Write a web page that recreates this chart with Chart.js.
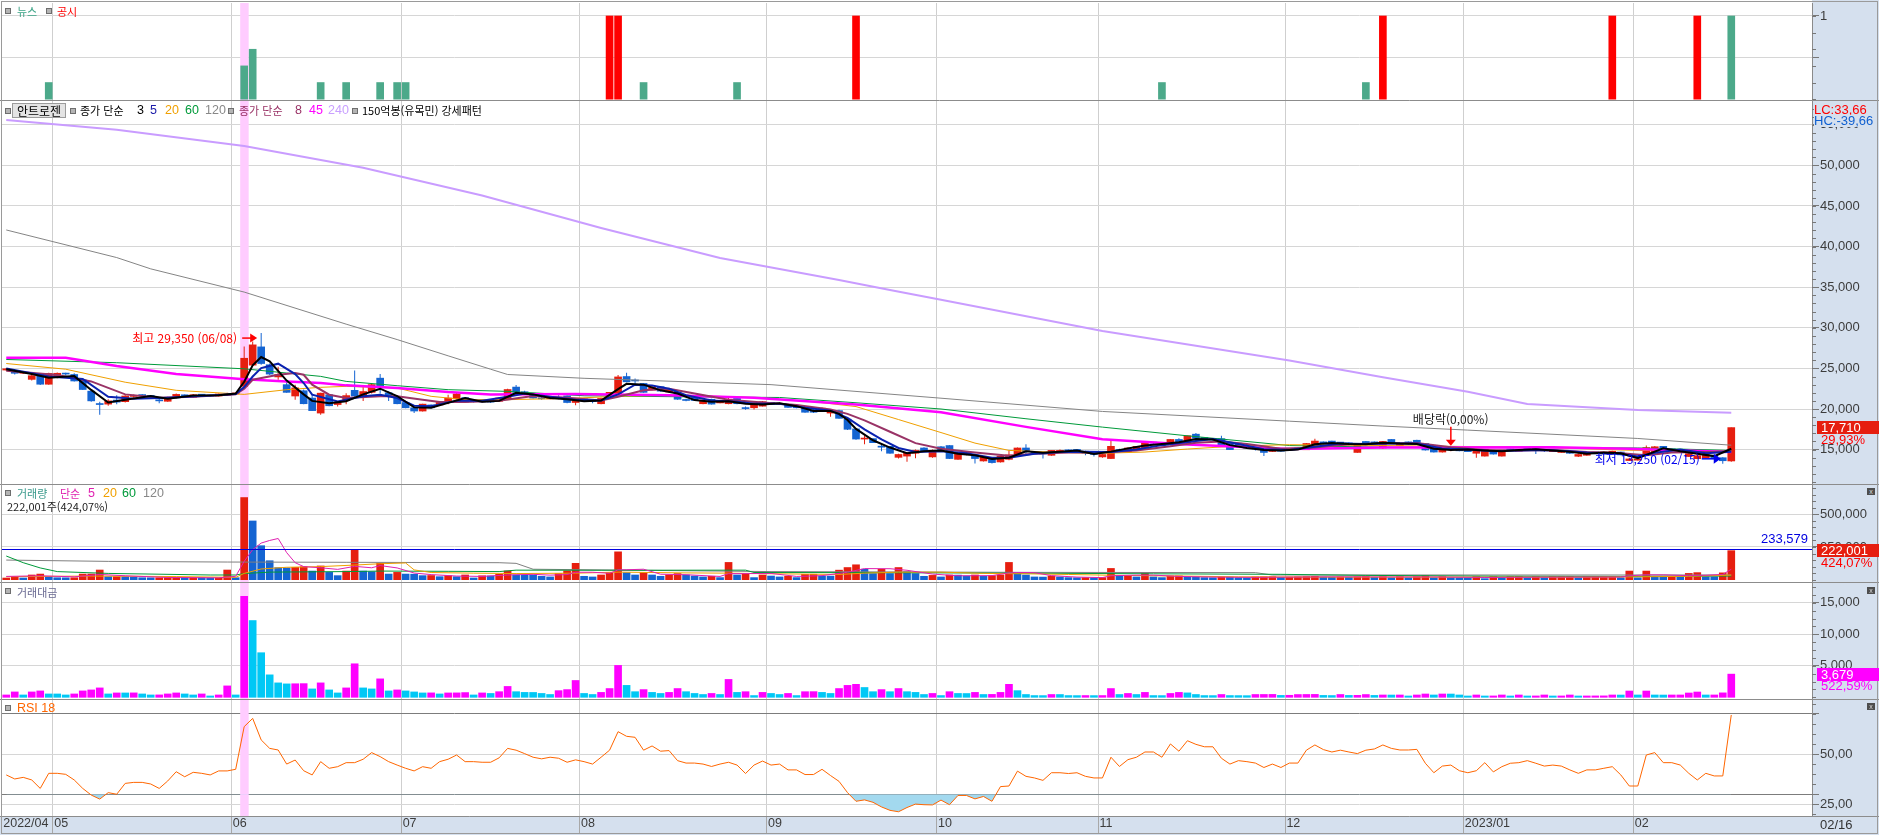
<!DOCTYPE html>
<html lang="ko">
<head>
<meta charset="utf-8">
<title>안트로젠 일봉 차트</title>
<script src="https://cdn.jsdelivr.net/npm/chart.js@4.4.1/dist/chart.umd.min.js"></script>
<style>
html, body { margin: 0; padding: 0; background: #fff; }
#wrap { position: relative; width: 1879px; height: 835px; overflow: hidden; }
#wrap canvas, #wrap svg { position: absolute; left: 0; top: 0; }
.t { position: absolute; white-space: nowrap; font: 11px/14px 'Noto Sans CJK KR', 'Noto Sans', sans-serif; color: #000; }
.n { font-family: 'Liberation Sans Narrow', 'Liberation Sans', Arial, sans-serif; font-size: 12.5px; }
.sq { position: absolute; width: 4px; height: 4px; border: 1px solid #6e6e6e; background: #b4b4b4; }
.tag { position: absolute; left: 1817px; width: 62px; height: 13px; font: 13px/13px 'Liberation Sans Narrow', 'Liberation Sans', Arial, sans-serif; color: #fff; padding-left: 4px; box-sizing: border-box; }
.ax { position: absolute; white-space: nowrap; font: 13px/14px 'Liberation Sans Narrow', 'Liberation Sans', Arial, sans-serif; }
.btn { position: absolute; left: 1867px; width: 8px; height: 7px; background: #4e4e4e; color: #ddd; font: 7px/7px Arial, sans-serif; text-align: center; }
</style>
</head>
<body>
<div id="wrap">
  <canvas id="c" width="1879" height="835"></canvas>
  <svg id="ov" width="1879" height="835"></svg>

  <!-- 뉴스 / 공시 -->
  <div class="sq" style="left:5px;top:8px"></div>
  <div class="t" style="left:17px;top:4px;color:#3ba386">뉴스</div>
  <div class="sq" style="left:46px;top:8px"></div>
  <div class="t" style="left:57px;top:4px;color:#f00">공시</div>

  <!-- 가격 -->
  <div class="sq" style="left:5px;top:108px"></div>
  <div class="t" style="left:12px;top:103px;width:54px;height:15px;box-sizing:border-box;border:1px solid #9c9c9c;background:#e4e4e4;padding-left:4px;line-height:13px;font-size:12px">안트로젠</div>
  <div class="sq" style="left:70px;top:108px"></div>
  <div class="t" style="left:80px;top:103px">종가 단순</div>
  <div class="t n" style="left:137px;top:103px">3</div>
  <div class="t n" style="left:150px;top:103px;color:#1a1aa8">5</div>
  <div class="t n" style="left:165px;top:103px;color:#f0a000">20</div>
  <div class="t n" style="left:185px;top:103px;color:#009a3a">60</div>
  <div class="t n" style="left:205px;top:103px;color:#888">120</div>
  <div class="sq" style="left:228px;top:108px"></div>
  <div class="t" style="left:239px;top:103px;color:#993366">종가 단순</div>
  <div class="t n" style="left:295px;top:103px;color:#993366">8</div>
  <div class="t n" style="left:309px;top:103px;color:#ff00ff">45</div>
  <div class="t n" style="left:328px;top:103px;color:#c9a0ff">240</div>
  <div class="sq" style="left:352px;top:108px"></div>
  <div class="t" style="left:362px;top:103px">150억봉(유목민) 강세패턴</div>

  <!-- 거래량 -->
  <div class="sq" style="left:5px;top:490px"></div>
  <div class="t" style="left:17px;top:486px;color:#3a9a8c">거래량</div>
  <div class="t" style="left:60px;top:486px;color:#e020b0">단순</div>
  <div class="t n" style="left:88px;top:486px;color:#e020b0">5</div>
  <div class="t n" style="left:103px;top:486px;color:#f0a000">20</div>
  <div class="t n" style="left:122px;top:486px;color:#009a3a">60</div>
  <div class="t n" style="left:143px;top:486px;color:#888">120</div>
  <div class="t" id="volHead" style="left:7px;top:499px;color:#222"></div>

  <!-- 거래대금 -->
  <div class="sq" style="left:5px;top:588px"></div>
  <div class="t" style="left:17px;top:585px;color:#6a6a92">거래대금</div>

  <!-- RSI -->
  <div class="sq" style="left:5px;top:705px"></div>
  <div class="t n" style="left:17px;top:701px;color:#ff6600">RSI 18</div>

  <div class="btn" style="top:488px">x</div>
  <div class="btn" style="top:587px">x</div>
  <div class="btn" style="top:703px">x</div>

  <div class="ax" style="left:1814px;top:103px;color:#f00;background:#d5e0ee">LC:33,66</div>
  <div class="ax" style="left:1814px;top:115px;width:62px;height:12px;line-height:12px;overflow:hidden;color:#1060d0;background:#d5e0ee">HC:-39,66</div>
  <div class="ax" style="left:1820px;top:818px;color:#333">02/16</div>
</div>

<script>
// 슬롯 수 (거래일 204 + 오른쪽 여백 9)
const SLOTS = 213;
const monthStarts = [0, 6, 27, 47, 68, 90, 110, 129, 151, 172, 192];
const monthNames = ['2022/04', '05', '06', '07', '08', '09', '10', '11', '12', '2023/01', '02'];

// 일봉 시가/고가/저가/종가
const opens = [
  24800,24450,24400,23650,24300,23050,23900,24400,24250,23600,
  22200,20600,20600,21100,20900,21550,21750,21600,21050,20950,
  21400,21750,21450,21800,21700,21600,21700,21850,22800,25400,
  27650,25450,23950,23000,21600,22250,21350,19500,21750,20550,
  21050,22300,21450,22050,23800,22000,21550,20800,20150,19750,
  20500,20500,20950,21250,21400,20950,21150,21100,20950,21150,
  22700,22050,21850,21350,21250,21450,21600,20800,21250,21000,
  20650,21650,21850,24000,23500,23150,22350,22750,22100,22050,
  21100,21450,20650,21200,20750,20650,21300,20100,20150,20350,
  20800,20550,20550,20350,20150,19900,19800,19500,19800,18750,
  17550,16300,16350,15400,15400,14050,14200,14550,15200,14100,
  15350,15500,13800,14500,14350,13600,14000,13480,13800,14200,
  15200,14750,14500,14300,14700,14950,14950,14800,14600,14100,
  13900,15000,14750,14980,15200,15850,15800,15600,16250,15850,
  16900,16500,16300,16350,15800,15800,15350,15150,15100,14770,
  15000,15100,15200,14980,15400,15950,16050,15900,15820,14650,
  16000,15950,15200,16250,15500,15950,16150,15750,15300,14700,
  15100,15350,14950,14550,14200,14900,14200,15050,14800,15150,
  15200,14950,14750,14650,14800,14180,14300,14650,14550,14600,
  14700,13650,13700,14400,14750,15400,15100,15000,14150,13880,
  14000,14300,14000,13600
];
const highs = [
  25050,24600,24600,24200,24400,24450,24500,24450,24400,23700,
  22300,20900,21200,21700,21700,21800,21850,21700,21300,21500,
  21900,21800,21850,21850,21750,21900,22000,22000,27700,28300,
  29350,25600,25200,23500,23000,22400,21750,22000,21800,21000,
  21950,24750,22800,23100,24300,22200,21600,20900,20200,20650,
  20550,20900,21750,22100,21450,21050,21200,21200,21450,22500,
  22950,22250,21950,21500,21500,21700,21650,21100,21300,21100,
  21400,22100,24200,24450,23750,23200,22800,22800,22400,22150,
  21250,21500,21150,21250,21100,21350,21400,20300,20800,21000,
  20850,20800,20600,20400,20200,20000,20200,19900,19900,18800,
  17600,16750,16400,15650,15450,14500,14700,15000,15300,15000,
  15450,15550,14600,14700,14400,14200,14050,14250,14900,15250,
  15650,14800,14600,14900,15000,15000,15050,14850,14650,14450,
  16250,15100,15250,15450,16000,15950,15850,16300,16400,16750,
  17050,16550,16350,16700,15850,15850,15400,15200,15150,15300,
  15050,15150,15250,15800,16350,16000,16100,15950,15900,15600,
  16050,16000,16050,16300,15850,16000,16200,15800,15350,15050,
  15350,15400,15100,15150,15100,14950,14950,15100,15050,15200,
  15250,15000,14950,14900,14850,14550,14650,14700,14750,14850,
  14750,14000,14100,15500,15450,15450,15150,15050,14600,14550,
  14550,14350,14050,17710
];
const lows = [
  24700,24250,24300,23500,22950,23000,23800,24150,23400,22350,
  20900,19300,20400,20600,20800,21400,21500,21450,20700,20900,
  21300,21400,21400,21600,21500,21550,21600,21800,22700,25300,
  25450,24200,23600,22000,21150,20600,19750,19300,20350,20300,
  20600,21300,21000,21900,21900,21000,20600,20100,19500,19700,
  20100,20400,20600,21200,20750,20800,20800,20750,20900,21100,
  22000,21850,21300,21150,21200,21200,20700,20450,20900,20700,
  20600,21600,21800,23300,23100,22000,22300,22150,22000,21150,
  20950,21000,20600,20550,20700,20600,20600,19900,19950,20300,
  20500,20500,20150,20100,19550,19500,19750,19050,18800,17400,
  16200,15650,15800,14800,14500,13900,13500,13950,14800,14000,
  14900,13850,13750,14300,13300,13550,13300,13400,13700,14150,
  14450,14450,13900,14250,14650,14700,14750,14300,14150,14000,
  13850,14750,14700,14950,15150,15600,15450,15550,15800,15800,
  16300,16150,16100,15350,14950,15200,15150,14900,14200,14700,
  14750,14850,14950,14950,15350,15650,15450,15600,15500,14600,
  15650,15700,15100,15700,15450,15600,15700,14900,14650,14650,
  14800,14800,14700,14000,14150,14400,14150,14850,14750,14950,
  14450,14700,14700,14600,14450,14100,14250,14500,14500,14550,
  14300,13600,13650,14350,14700,14800,14800,14700,14100,13800,
  13950,13850,13250,13500
];
const closes = [
  24950,24400,24500,24100,23050,24380,24400,24300,23450,22400,
  21000,20550,21000,20850,21600,21650,21650,21550,21000,21350,
  21800,21450,21750,21700,21600,21850,21850,21950,26250,27900,
  25600,24300,24250,22050,22600,20650,19800,21950,20400,20800,
  21650,21600,22150,23000,22600,21600,20650,20150,19750,20600,
  20150,20800,21350,21850,20850,20900,20870,20850,21350,22400,
  22050,22000,21350,21250,21400,21350,20800,21050,21000,20900,
  21300,22050,23950,23350,23450,22050,22700,22200,22300,21200,
  21050,21050,21000,20600,21050,21200,20650,20050,20750,20900,
  20550,20650,20200,20150,19600,19600,20100,19550,18850,17500,
  16300,16350,15850,15300,14550,14400,14650,14900,14850,14900,
  15000,13900,14550,14550,13900,14150,13400,14200,14350,15200,
  14800,14500,14450,14900,14900,14850,14900,14550,14400,14400,
  15400,14800,15200,15400,15850,15800,15500,16250,15850,16700,
  16400,16200,16200,15450,15000,15250,15200,15100,14650,15200,
  14800,15050,15050,15750,16050,15800,15650,15800,15700,15550,
  15700,15750,16000,15750,15700,15700,15750,14950,14700,15000,
  15150,14850,14750,14900,15050,14450,14900,14950,15000,15050,
  15000,14850,14900,14850,14550,14400,14600,14600,14700,14800,
  14350,13850,13850,15250,15350,14850,14850,14750,14500,14250,
  14450,13900,13630,17710
];

// 거래량 (주)
const volume = [
  12800,23000,13000,36000,43000,23000,15000,14500,15000,43000,
  43500,74000,23000,23500,23000,20000,15000,14500,15000,15500,
  16000,15500,16000,15500,13000,13500,74000,15000,628000,449000,
  260000,145000,92000,90000,94000,99000,66000,105000,56000,31000,
  66000,232000,66000,61000,125000,43000,56000,43000,42000,31000,
  32000,23000,31000,23000,36000,13000,30000,28500,41500,67000,
  36000,35500,35000,26000,21000,47000,67000,125000,26000,21000,
  36000,54000,213000,54000,36000,54000,36000,26000,36000,47000,
  36000,28000,21000,26000,16000,132000,36000,47000,16000,36000,
  28000,21000,26000,16000,41000,41500,28000,27500,73000,93000,
  114000,80000,47000,80000,47000,93000,62000,47000,26000,33000,
  21000,36000,35000,28000,36000,26000,31000,36000,132000,47000,
  36000,21000,20000,28000,21000,16000,15000,16000,15000,16000,
  86000,28000,29000,21000,47000,21000,16000,28000,29000,21000,
  20000,16000,15000,21000,20000,16000,15000,21000,22000,23000,
  18000,20000,22000,24000,26000,20000,18000,21000,19000,22000,
  24000,18000,23000,15000,23000,15000,23000,31000,15000,23000,
  15500,14000,13000,23000,8000,23000,15000,23000,24000,15000,
  23000,15000,23000,23500,24000,15000,23000,23500,24000,24500,
  15000,66000,15000,66000,23000,22000,23000,22500,48000,54000,
  23000,22000,52350,222001
];

// 거래대금 (백만원)
const tradeValue = [
  372,851,372,851,1011,532,530,372,532,1011,
  1170,1490,532,692,690,700,532,372,380,532,
  692,532,372,532,213,372,1809,372,16013,12183,
  7076,3564,2288,2128,2150,2170,1330,2288,1170,692,
  1490,5320,1490,1330,2926,1011,1170,1011,851,692,
  700,532,692,700,750,372,692,611,890,1724,
  890,778,770,611,445,1056,1223,2669,611,445,
  778,1390,5060,1890,890,1223,778,611,778,1390,
  890,611,445,611,445,2836,778,890,278,778,
  611,445,611,278,890,900,778,611,1390,1890,
  2057,1557,890,1223,890,1390,890,778,445,611,
  278,890,611,600,778,445,460,778,2057,1056,
  445,278,270,445,440,278,270,280,270,280,
  1390,445,611,445,778,278,270,611,778,700,
  445,278,270,445,278,270,260,445,450,460,
  300,320,440,450,460,300,280,445,300,310,
  440,300,368,360,368,210,368,525,368,525,
  520,368,210,368,210,215,368,210,368,210,
  215,368,210,215,368,210,215,220,225,368,
  360,998,368,998,368,360,368,370,683,840,
  368,370,704,3679
];

// RSI 18
const rsi = [
  39.6,37.6,38.4,37.1,32.9,40.4,40.4,39.9,37.1,32.9,
  29.6,27.6,30.8,30.0,35.4,35.9,35.9,35.1,32.9,36.6,
  41.2,38.7,40.9,40.4,39.6,41.6,41.6,42.4,63.6,67.7,
  57.0,52.8,52.0,45.0,47.0,41.7,39.6,46.2,42.9,43.7,
  45.7,45.7,47.4,50.7,48.7,46.2,44.5,42.9,41.6,43.7,
  42.9,46.2,47.4,49.5,46.2,46.2,45.9,45.9,48.1,52.8,
  51.9,50.2,48.4,47.6,48.4,47.9,45.9,47.1,46.2,45.0,
  48.4,51.9,61.1,58.8,58.3,51.9,54.0,51.4,51.7,46.7,
  45.5,45.5,45.0,43.8,45.0,45.9,44.5,40.3,44.5,46.5,
  44.5,45.0,42.1,42.1,39.8,39.8,42.4,39.3,36.4,30.8,
  26.5,27.2,26.0,23.7,22.0,21.3,23.4,25.1,24.8,24.7,
  27.1,24.8,29.4,29.4,27.7,28.9,26.5,33.8,34.1,41.5,
  38.9,38.1,36.9,40.7,40.7,40.3,40.7,38.9,38.1,38.1,
  48.4,43.8,47.2,48.4,51.0,51.0,48.4,55.0,51.4,56.6,
  54.8,53.6,53.6,47.9,45.0,46.7,46.2,45.5,43.3,45.0,
  43.3,45.5,45.5,51.9,54.5,52.2,51.0,51.9,51.0,50.2,
  51.9,52.5,54.5,52.8,52.0,52.0,52.3,45.4,40.7,44.0,
  44.5,41.7,40.7,41.7,45.7,41.1,43.7,45.4,45.7,46.7,
  45.4,44.0,44.5,44.0,42.1,40.4,42.1,42.1,42.9,43.7,
  39.6,34.1,34.1,49.5,50.7,45.7,45.7,44.5,40.4,37.1,
  40.4,39.1,39.1,69.4
];

// 뉴스 / 공시 건수 [일자, 값]
const newsPts = [[5,0.2],[28,0.4],[29,0.6],[37,0.2],[40,0.2],[44,0.2],[46,0.2],[47,0.2],[75,0.2],[86,0.2],[136,0.2],[160,0.2],[203,1]];
const disclosurePts = [[71,1],[72,1],[100,1],[162,1],[189,1],[199,1]];

// 이동평균 [일자, 값]
const ma3Pts = [[0,24900],[3,24300],[5,23850],[8,24050],[10,22350],[12,20800],[14,21150],[17,21600],[19,21250],[22,21650],[25,21700],[27,21900],[28,23350],[29,25370],[30,26400],[31,25860],[33,23500],[35,21800],[36,21000],[38,20700],[40,20950],[42,21800],[44,22500],[46,21600],[48,20200],[50,20150],[52,20750],[54,21350],[56,20900],[58,21000],[60,22000],[62,21800],[64,21350],[66,21200],[68,20950],[70,21050],[72,22450],[73,23100],[75,23000],[77,22300],[79,21900],[81,21100],[83,20900],[85,20950],[87,20650],[89,20550],[91,20700],[93,20350],[95,19750],[97,19750],[98,19400],[99,18650],[100,17550],[102,16150],[104,15250],[106,14550],[108,14800],[110,14900],[112,14500],[114,14300],[116,13850],[118,14000],[120,14800],[122,14600],[124,14750],[126,14900],[128,14450],[130,14750],[132,15150],[134,15500],[136,15700],[138,15900],[140,16300],[142,16250],[144,15550],[146,15200],[148,14950],[150,14900],[152,15000],[154,15650],[156,15800],[158,15700],[160,15650],[162,15850],[164,15750],[166,15700],[168,15100],[170,14950],[172,15000],[174,14900],[176,14800],[178,14950],[180,15050],[182,14900],[184,14750],[186,14500],[188,14650],[190,14550],[192,13950],[193,14350],[195,15150],[197,14800],[199,14500],[201,14200],[203,15100]];
const ma5Pts = [[0,25000],[5,24000],[9,23700],[12,21500],[15,21250],[19,21400],[24,21650],[27,21850],[28,22700],[29,24000],[30,25040],[32,25580],[34,24300],[35,23200],[36,21760],[39,20940],[42,21560],[44,21760],[46,21350],[48,20400],[50,20330],[53,21030],[56,21030],[59,21500],[61,21900],[64,21500],[67,21150],[70,21050],[72,21800],[74,23000],[76,22900],[78,22500],[80,21700],[83,21050],[86,20900],[88,20650],[91,20650],[94,20150],[97,19800],[99,18900],[101,17500],[103,16250],[105,15200],[107,14700],[110,14800],[113,14550],[116,14000],[118,14000],[121,14500],[124,14700],[127,14750],[130,14700],[133,15000],[136,15550],[139,15950],[142,16300],[145,15700],[148,15050],[151,14950],[154,15350],[157,15750],[160,15700],[163,15750],[166,15750],[169,15150],[172,15000],[175,14800],[178,14900],[181,14950],[184,14800],[187,14550],[190,14450],[192,14150],[194,14600],[197,15000],[200,14550],[203,14750]];
const ma8Pts = [[0,24700],[6,24200],[10,23400],[14,21800],[18,21400],[22,21500],[27,21800],[28,22500],[29,23610],[32,24220],[34,24430],[35,24220],[36,23000],[38,21760],[40,21350],[44,21560],[46,21560],[49,21150],[51,20860],[54,20860],[58,21030],[62,21600],[66,21400],[70,21050],[72,21500],[75,22300],[78,22500],[81,21900],[85,21150],[89,20800],[93,20500],[97,19950],[99,19400],[101,18600],[104,17200],[107,15800],[110,15100],[114,14650],[118,14250],[121,14500],[125,14650],[129,14650],[133,14900],[137,15400],[140,15850],[143,16000],[146,15700],[150,15100],[154,15250],[158,15650],[162,15750],[166,15800],[170,15300],[174,14950],[178,14900],[182,14950],[186,14700],[190,14550],[193,14300],[196,14650],[200,14700],[203,14800]];
const ma20Pts = [[0,25600],[7,24900],[14,23300],[20,22300],[28,21800],[33,22380],[37,22670],[40,22790],[46,22590],[50,21560],[54,21150],[59,21150],[66,21300],[73,21600],[80,21700],[88,21400],[95,20900],[100,20300],[105,18700],[110,17100],[114,15800],[118,14900],[124,14650],[129,14550],[134,14700],[139,15070],[145,15450],[151,15600],[157,15550],[162,15500],[170,15400],[180,15300],[190,14950],[197,14800],[203,14700]];
const ma45Pts = [[0,26300],[7,26300],[13,25300],[20,24300],[28,23650],[33,23400],[37,23200],[40,22910],[46,22580],[52,22090],[57,21800],[67,21850],[78,21700],[88,21400],[100,20560],[110,19600],[120,17800],[129,16270],[139,15620],[151,15070],[162,15250],[182,15300],[191,15100],[203,14700]];
const ma60Pts = [[0,26100],[13,25700],[28,24950],[33,24430],[37,24020],[40,23400],[46,22870],[52,22380],[59,22170],[68,21630],[80,21500],[91,21420],[100,20770],[110,20000],[120,18800],[129,17770],[139,16700],[151,15500],[162,15300],[175,15250],[192,15200],[203,14900]];
const ma120Pts = [[0,42050],[13,38650],[17,37260],[28,34400],[40,30450],[46,28550],[52,26550],[57,24900],[59,24250],[68,23780],[90,23000],[110,21330],[129,19700],[151,18500],[162,17900],[172,17400],[192,16370],[203,15540]];
const ma240Pts = [[0,55600],[13,54400],[28,52400],[42,49700],[56,46300],[70,42300],[84,38600],[98,35900],[104,34650],[110,33460],[129,29600],[151,25960],[162,23920],[172,22130],[179,20620],[192,19880],[203,19540]];

// 거래량 이동평균 [일자, 값]
const volMa5Pts = [[0,25000],[4,30000],[8,22000],[11,40000],[14,30000],[19,17000],[25,14500],[27,26000],[28,140000],[29,230000],[30,280000],[31,300000],[32,315000],[33,207000],[34,130000],[35,100000],[37,91000],[39,79000],[41,102000],[43,91000],[44,108000],[46,90000],[48,51000],[50,39000],[53,28000],[56,25000],[59,36000],[62,41000],[64,35000],[66,39000],[67,57000],[69,57000],[71,49000],[72,75000],[73,76000],[75,80000],[77,42000],[80,38000],[84,25000],[85,46000],[88,47000],[90,48000],[93,25000],[96,31000],[99,57000],[101,85000],[104,84000],[106,72000],[109,43000],[112,30000],[116,31000],[118,52000],[119,55000],[121,54000],[123,31000],[126,20000],[129,16000],[130,30000],[133,35000],[135,35000],[138,25000],[142,20000],[147,18000],[152,20000],[156,22000],[162,21000],[168,21000],[174,17000],[180,19000],[186,20000],[190,20000],[191,30000],[193,37000],[195,37000],[198,31000],[200,34000],[202,40000],[203,80000]];
const volMa20Pts = [[0,23000],[10,28000],[20,24000],[27,18000],[28,48000],[30,82000],[33,95000],[37,100000],[41,112000],[44,122000],[47,128000],[48,75000],[50,55000],[55,50000],[60,47000],[67,50000],[72,58000],[80,52000],[85,50000],[92,44000],[98,40000],[101,50000],[105,58000],[110,58000],[115,48000],[120,45000],[125,40000],[130,34000],[138,28000],[145,22000],[155,20000],[165,20000],[175,19000],[185,19000],[192,22000],[198,26000],[203,35000]];
const volMa60Pts = [[0,181000],[2,130000],[4,90000],[6,62000],[12,48000],[24,36000],[27,36000],[28,47000],[31,58000],[40,62000],[44,66000],[52,64000],[58,62000],[60,73000],[70,72000],[87,73000],[88,55000],[100,54000],[110,52000],[120,50000],[135,45000],[150,41000],[160,33000],[175,27000],[190,25000],[203,28000]];
const volMa120Pts = [[0,150000],[12,140000],[26,135000],[40,133000],[58,130000],[60,125000],[62,80000],[90,62000],[120,56000],[147,54000],[149,36000],[203,36000]];

const volRefLine = 233579;
const highlightIdx = 28;
const exDivIdx = 170;
const hiDate = '06/08';
const loDate = '02/15';

const UP = '#e61e0f', DOWN = '#1464d2';
const fmt = v => Math.round(v).toLocaleString('en-US');
const pct = v => v.toFixed(2).replace('.', ',');

function fromPts(pts) {
  const a = new Array(SLOTS).fill(null);
  pts.forEach(([i, v]) => { a[i] = v; });
  return a;
}

const labels = Array.from({ length: SLOTS }, (_, i) => String(i));
const candleColor = opens.map((o, i) => {
  const c = closes[i];
  if (c > o) return UP;
  if (c < o) return DOWN;
  return i > 0 && c < closes[i - 1] ? DOWN : UP;
});
const volColor = volume.map((v, i) => (i > 0 && v < volume[i - 1] ? DOWN : UP));
const valColor = tradeValue.map((v, i) => (i > 0 && v < tradeValue[i - 1] ? '#00c8f5' : '#ff00ff'));

function maLine(pts, axis, color, width, order) {
  return {
    type: 'line', yAxisID: axis, data: fromPts(pts),
    borderColor: color, borderWidth: width, pointRadius: 0,
    spanGaps: true, tension: 0, fill: false, order: order
  };
}

const axisFont = { family: "'Liberation Sans Narrow','Liberation Sans',Arial,sans-serif", size: 13 };
const xFont = { family: "'Liberation Sans Narrow','Liberation Sans',Arial,sans-serif", size: 12.5 };
const GRID = '#d6d6d6';

function yAxis(weight, min, max, ticks, labelFn, gridFn) {
  return {
    type: 'linear', position: 'right', stack: 'panes', stackWeight: weight,
    min: min, max: max,
    afterBuildTicks: s => { s.ticks = ticks.map(v => ({ value: v })); },
    afterFit: s => { s.width = 67; s.paddingTop = 0; s.paddingBottom = 0; },
    border: { display: true, color: '#8a8a8a' },
    grid: { color: gridFn || GRID, tickColor: '#777', tickLength: 7, drawTicks: true },
    ticks: { color: '#3c3c3c', font: axisFont, padding: 1, callback: labelFn }
  };
}

// 축 보조 눈금 간격
const minorStep = { yNews: 0.2, yPrice: 1000, yVol: 50000, yVal: 1250, yRsi: 5 };

const chromePlugin = {
  id: 'chrome',
  beforeDraw(chart) {
    const ctx = chart.ctx, a = chart.chartArea;
    ctx.save();
    ctx.fillStyle = '#fff';
    ctx.fillRect(0, 0, chart.width, chart.height);
    ctx.fillStyle = '#d5e0ee';
    ctx.fillRect(a.right, 0, chart.width - a.right, chart.height);
    ctx.fillRect(0, a.bottom, a.right, chart.height - a.bottom);
    ctx.restore();
  },
  beforeDatasetsDraw(chart) {
    const ctx = chart.ctx, a = chart.chartArea, x = chart.scales.x.getPixelForValue(highlightIdx);
    ctx.save();
    ctx.fillStyle = '#ffccff';
    ctx.fillRect(x - 4, a.top, 8.5, a.bottom - a.top);
    ctx.restore();
  },
  afterDatasetsDraw(chart) {
    const ctx = chart.ctx, a = chart.chartArea;
    const y = Math.round(chart.scales.yVol.getPixelForValue(volRefLine)) + 0.5;
    ctx.save();
    ctx.strokeStyle = '#0000e0';
    ctx.lineWidth = 1;
    ctx.beginPath(); ctx.moveTo(a.left, y); ctx.lineTo(a.right, y); ctx.stroke();
    ctx.restore();
  },
  afterDraw(chart) {
    const ctx = chart.ctx;
    ctx.save();
    ctx.strokeStyle = '#777';
    ctx.lineWidth = 1;
    ctx.beginPath();
    Object.keys(minorStep).forEach(id => {
      const s = chart.scales[id], step = minorStep[id];
      for (let v = Math.ceil(s.min / step) * step; v <= s.max; v += step) {
        const y = Math.round(s.getPixelForValue(v)) + 0.5;
        ctx.moveTo(s.left, y); ctx.lineTo(s.left + 4, y);
      }
    });
    ctx.stroke();
    ctx.strokeStyle = '#8c8c8c';
    ctx.beginPath();
    ['yNews', 'yPrice', 'yVol', 'yVal', 'yRsi'].forEach(id => {
      const y = Math.round(chart.scales[id].bottom) + 0.5;
      ctx.moveTo(0, y); ctx.lineTo(chart.width, y);
    });
    ctx.stroke();
    ctx.strokeStyle = '#9a9a9a';
    ctx.strokeRect(1.5, 1.5, chart.width - 3, chart.height - 3);
    ctx.restore();
  }
};

const chart = new Chart(document.getElementById('c'), {
  type: 'bar',
  data: {
    labels: labels,
    datasets: [
      { yAxisID: 'yNews', data: fromPts(newsPts), backgroundColor: '#4ca98a', barThickness: 7, grouped: false },
      { yAxisID: 'yNews', data: fromPts(disclosurePts), backgroundColor: '#ff0000', barThickness: 7, grouped: false },

      { yAxisID: 'yPrice', data: lows.map((l, i) => [l, highs[i]]), backgroundColor: candleColor, barThickness: 1, grouped: false, inflateAmount: 0, order: 12 },
      { yAxisID: 'yPrice', data: opens.map((o, i) => [o, closes[i]]), backgroundColor: candleColor, barThickness: 7, minBarLength: 1, grouped: false, order: 11 },
      maLine(ma240Pts, 'yPrice', '#c99cff', 2, 9),
      maLine(ma120Pts, 'yPrice', '#858585', 1, 8),
      maLine(ma60Pts, 'yPrice', '#009a3a', 1, 7),
      maLine(ma20Pts, 'yPrice', '#f0a000', 1, 6),
      maLine(ma45Pts, 'yPrice', '#ff00ff', 2.5, 5),
      maLine(ma8Pts, 'yPrice', '#993366', 2, 4),
      maLine(ma5Pts, 'yPrice', '#0a22b0', 2, 3),
      maLine(ma3Pts, 'yPrice', '#000000', 2, 2),

      { yAxisID: 'yVol', data: volume, backgroundColor: volColor, barThickness: 7, grouped: false, order: 11 },
      maLine(volMa120Pts, 'yVol', '#808080', 1, 4),
      maLine(volMa60Pts, 'yVol', '#009a3a', 1, 3),
      maLine(volMa20Pts, 'yVol', '#f0a000', 1, 2),
      maLine(volMa5Pts, 'yVol', '#e020b0', 1, 1),

      { yAxisID: 'yVal', data: tradeValue, backgroundColor: valColor, barThickness: 7, grouped: false, order: 11 },

      {
        type: 'line', yAxisID: 'yRsi', data: rsi, borderColor: '#ff6600', borderWidth: 1,
        pointRadius: 0, tension: 0, order: 1,
        fill: { target: { value: 30 }, above: 'rgba(0,0,0,0)', below: '#a3d9ef' }
      }
    ]
  },
  options: {
    responsive: false,
    animation: false,
    devicePixelRatio: 1,
    events: [],
    layout: { padding: { left: 2, top: 3, right: 0, bottom: 1 } },
    plugins: { legend: { display: false }, tooltip: { enabled: false } },
    scales: {
      x: {
        type: 'category', offset: true,
        afterFit: s => { s.height = 18; s.paddingLeft = 0; s.paddingRight = 0; },
        border: { display: false },
        grid: {
          offset: true, drawTicks: true, tickLength: 18,
          color: c => (c.index > 0 && monthStarts.includes(c.index) ? '#cfcfcf' : 'rgba(0,0,0,0)'),
          tickColor: c => (c.index > 0 && monthStarts.includes(c.index) ? '#a8a8a8' : 'rgba(0,0,0,0)')
        },
        ticks: {
          autoSkip: false, maxRotation: 0, minRotation: 0, align: 'start',
          labelOffset: -3, padding: -18, color: '#3c3c3c', font: xFont,
          callback: (v, i) => { const m = monthStarts.indexOf(i); return m >= 0 ? monthNames[m] : ''; }
        }
      },
      yNews: yAxis(97, -0.01, 1.156, [0.5, 1], v => (v === 1 ? '1' : '')),
      yPrice: yAxis(384, 10764, 58054, [15000, 20000, 25000, 30000, 35000, 40000, 45000, 50000, 55000], v => fmt(v)),
      yVol: yAxis(98, -17600, 731600, [250000, 500000], v => fmt(v)),
      yVal: yAxis(117, -270, 18300, [5000, 10000, 15000], v => fmt(v)),
      yRsi: yAxis(117, 19.19, 77.34, [25, 30, 50, 70],
        v => (v === 25 || v === 50 ? pct(v) : ''),
        c => (c.tick && (c.tick.value === 30 || c.tick.value === 70) ? '#7c7c7c' : GRID))
    }
  },
  plugins: [chromePlugin]
});

// 주석 / 현재값 표시
const wrap = document.getElementById('wrap');
const ov = document.getElementById('ov');
const NS = 'http://www.w3.org/2000/svg';
function txt(s, x, y, style, cls) {
  const d = document.createElement('div');
  d.className = cls || 't';
  d.textContent = s;
  d.style.left = x + 'px';
  d.style.top = y + 'px';
  Object.assign(d.style, style || {});
  wrap.appendChild(d);
  return d;
}
function svgEl(tag, attrs) {
  const e = document.createElementNS(NS, tag);
  Object.keys(attrs).forEach(k => e.setAttribute(k, attrs[k]));
  ov.appendChild(e);
}

const X = i => chart.scales.x.getPixelForValue(i);
const YP = v => chart.scales.yPrice.getPixelForValue(v);
const YV = v => chart.scales.yVol.getPixelForValue(v);
const YT = v => chart.scales.yVal.getPixelForValue(v);

// 최고가
const hiVal = Math.max(...highs), hiIdx = highs.indexOf(hiVal);
const hx = X(hiIdx), hy = YP(hiVal) + 5;
const hiLbl = txt('최고 ' + fmt(hiVal) + ' (' + hiDate + ')', 0, hy - 7, { color: '#f00', fontSize: '12px' });
hiLbl.style.left = (hx - 24 - hiLbl.offsetWidth) + 'px';
svgEl('line', { x1: hx - 19, y1: hy, x2: hx - 10, y2: hy, stroke: '#f00', 'stroke-width': 1.5 });
svgEl('polygon', { points: `${hx - 11},${hy - 4.5} ${hx - 4},${hy} ${hx - 11},${hy + 4.5}`, fill: '#f00' });

// 최저가
const loVal = Math.min(...lows), loIdx = lows.lastIndexOf(loVal);
const lx = X(loIdx), ly = YP(loVal) - 5;
const loLbl = txt('최저 ' + fmt(loVal) + ' (' + loDate + ')', 0, ly - 7, { color: '#0000ee', fontSize: '12px' });
loLbl.style.left = (lx - 23 - loLbl.offsetWidth) + 'px';
svgEl('line', { x1: lx - 21, y1: ly, x2: lx - 8, y2: ly, stroke: '#0000ee', 'stroke-width': 1.5 });
svgEl('polygon', { points: `${lx - 9},${ly - 5} ${lx - 2},${ly} ${lx - 9},${ly + 5}`, fill: '#0000ee' });

// 배당락
const ex = X(exDivIdx), ey = YP(highs[exDivIdx]) - 1;
const exLbl = txt('배당락(0,00%)', 0, ey - 34, { color: '#222', fontSize: '12px' });
exLbl.style.left = (ex - exLbl.offsetWidth / 2) + 'px';
svgEl('line', { x1: ex, y1: ey - 19, x2: ex, y2: ey - 5, stroke: '#f00', 'stroke-width': 1.5 });
svgEl('polygon', { points: `${ex - 5},${ey - 6} ${ex + 5},${ey - 6} ${ex},${ey}`, fill: '#f00' });

// 현재가 / 거래량 / 거래대금 태그
const n = closes.length - 1;
const lastClose = closes[n], prevClose = closes[n - 1];
txt(fmt(lastClose), 1817, YP(lastClose) - 6.5, { background: UP }, 'tag');
txt(pct((lastClose / prevClose - 1) * 100) + '%', 1821, YP(lastClose) + 5, { color: '#f00' }, 'ax');

const volPct = pct(volume[n] / volume[n - 1] * 100);
txt(fmt(volume[n]), 1817, YV(volume[n]) - 6.5, { background: UP }, 'tag');
txt(volPct + '%', 1821, YV(volume[n]) + 5, { color: '#f00' }, 'ax');
document.getElementById('volHead').textContent = fmt(volume[n]) + '주(' + volPct + '%)';

txt(fmt(tradeValue[n]), 1817, YT(tradeValue[n]) - 6.5, { background: '#ff00ff' }, 'tag');
txt(pct(tradeValue[n] / tradeValue[n - 1] * 100) + '%', 1821, YT(tradeValue[n]) + 5, { color: '#ff00ff' }, 'ax');

const refLbl = txt(fmt(volRefLine), 0, YV(volRefLine) - 17, { color: '#0000e0' }, 'ax');
refLbl.style.left = (chart.chartArea.right - 4 - refLbl.offsetWidth) + 'px';
</script>
</body>
</html>
